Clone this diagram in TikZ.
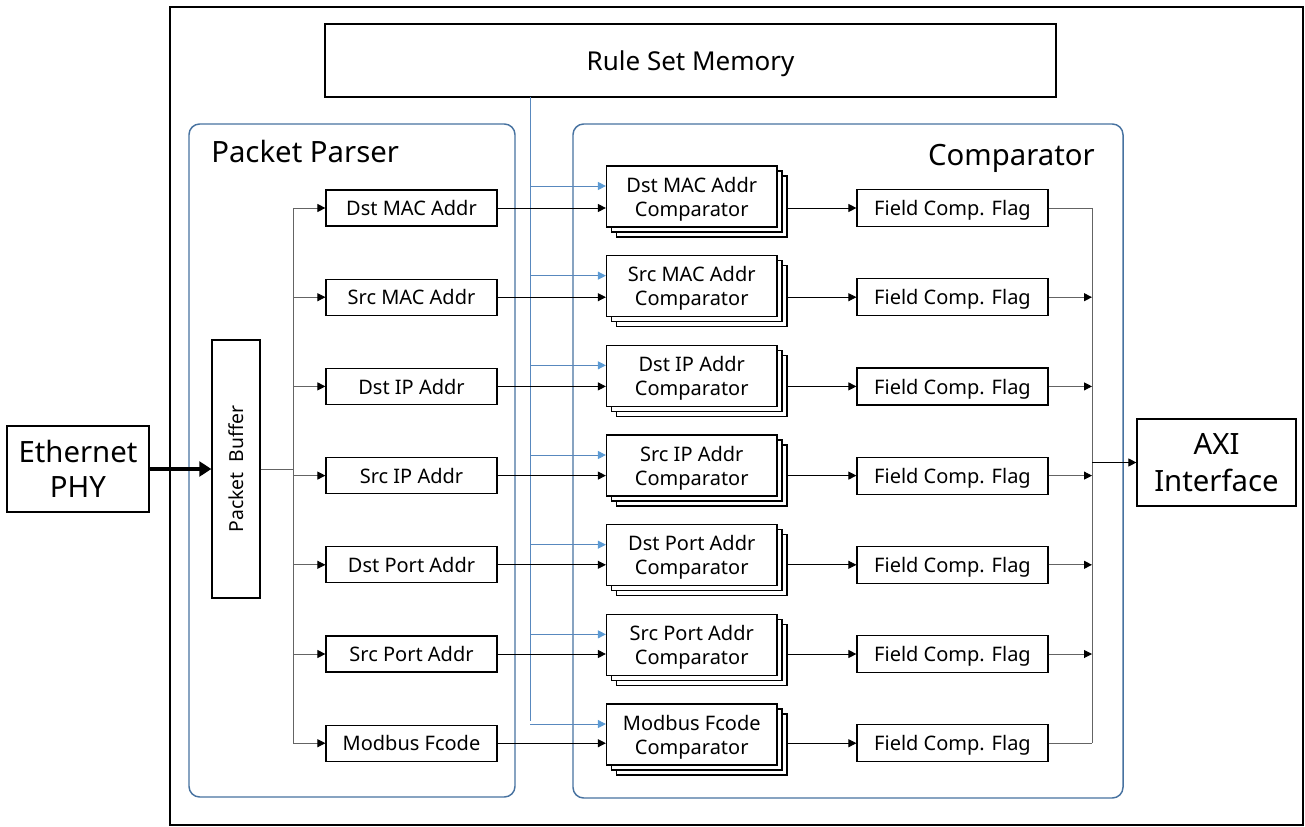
\documentclass[tikz,border=0pt]{standalone}
\usepackage{fontspec}
\setmainfont{Noto Sans}
\usetikzlibrary{arrows.meta,shadows,calc}
\definecolor{pblue}{RGB}{71,114,160}
\definecolor{rblue}{RGB}{88,136,190}
\definecolor{rtip}{RGB}{91,155,213}
\definecolor{gline}{RGB}{100,100,100}
\begin{document}
\begin{tikzpicture}[x=0.75pt,y=-0.75pt,
  box/.style={draw=black,line width=0.9pt,fill=white,inner sep=0pt,align=center,text depth=0pt},
  fld/.style={box,minimum width=128.25pt,minimum height=27pt,font=\fontsize{15}{18}\selectfont},
  cmp/.style={box,minimum width=127.9pt,minimum height=45.75pt,font=\fontsize{15}{18}\selectfont,
    general shadow={shadow xshift=7.5pt,shadow yshift=-7.5pt,draw=black,line width=0.9pt,fill=white},
    general shadow={shadow xshift=3.75pt,shadow yshift=-3.75pt,draw=black,line width=0.9pt,fill=white}},
  flag/.style={box,minimum width=143.25pt,minimum height=27.75pt,font=\fontsize{15}{18}\selectfont},
  grp/.style={draw=pblue,line width=1.1pt,rounded corners=8pt,inner sep=0pt},
  arr/.style={-{Triangle[length=6pt,width=6pt,fill=black,color=black]}},
  gl/.style={draw=gline,line width=0.7pt},
  bl/.style={draw=rblue,line width=0.7pt},
  barr/.style={-{Triangle[length=6pt,width=6pt,fill=rtip,color=rtip]}}]
\useasboundingbox (0,0) rectangle (1305,827);

% outer frame
\node[draw=black,line width=1.1pt,minimum width=849.75pt,minimum height=613.5pt,inner sep=0pt] (frame) at (736.5,416) {};

% containers
\node[grp,minimum width=244.5pt,minimum height=504.75pt] (pp) at (352,460.5) {};
\node[grp,minimum width=412.5pt,minimum height=505.5pt] (cp) at (848,461) {};
\node[anchor=base west,inner sep=0pt,font=\fontsize{22}{26}\selectfont] (ppl) at (211,163) {Packet Parser};
\node[anchor=base east,inner sep=0pt,font=\fontsize{22}{26}\selectfont] (cpl) at (1095,166) {Comparator};

% rule set memory
\node[box,minimum width=548.25pt,minimum height=54.75pt,font=\fontsize{19.5}{22}\selectfont] (rsm) at (690.5,60.5) {Rule Set Memory};

% ethernet, buffer, axi
\node[box,minimum width=106.5pt,minimum height=64.5pt,font=\fontsize{22}{26}\selectfont] (eth) at (78,469) {Ethernet\\PHY};
\node[box,rotate=90,minimum width=193.5pt,minimum height=36pt,font=\fontsize{14.5}{16}\selectfont] (pb) at (236,469) {Packet\ \ Buffer};
\node[box,minimum width=119.25pt,minimum height=65.25pt,font=\fontsize{22}{28}\selectfont] (axi) at (1216.5,462.5) {AXI\\Interface};

\draw[line width=3pt,-{Triangle[length=9pt,width=11pt]}] (eth.east) -- (pb.north);

% bus coordinates
\coordinate (lbm) at (293,469);
\coordinate (lbt) at (293,208);
\coordinate (lbb) at (293,743.2);
\coordinate (bt) at (530,97);
\coordinate (bb) at (530,720.5);
\coordinate (rbt) at (1092,208);
\coordinate (rbb) at (1092,743.2);
\coordinate (rbm) at (1092,462.5);

\draw[gl] (pb.south) -- (lbm);
\draw[gl] (lbt) -- (lbb);
\draw[bl] (bt) -- (bb);
\draw[gl] (rbt) -- (rbb);

\foreach \i/\fa/\ca in {1/Dst MAC Addr/Dst MAC Addr,2/Src MAC Addr/Src MAC Addr,3/Dst IP Addr/Dst IP Addr,4/Src IP Addr/Src IP Addr,5/Dst Port Addr/Dst Port Addr,6/Src Port Addr/Src Port Addr,7/Modbus Fcode/Modbus Fcode}{
  \pgfmathsetmacro{\yf}{208+89.2*(\i-1)}
  \pgfmathsetmacro{\yc}{196.5+89.67*(\i-1)}
  \node[fld] (f\i) at (411.5,\yf) {\fa};
  \node[cmp] (c\i) at (691.75,\yc) {\ca\\Comparator};
  \node[flag] (fl\i) at (952.5,\yf) {Field Comp. Flag};
  \coordinate (cb\i) at ($(c\i.west)+(0,-10.5)$);
  \coordinate (co\i) at ([xshift=7.5pt]c\i.east);
  \draw[gl,arr] (lbt |- f\i.west) -- (f\i.west);
  \draw[arr,line width=0.7pt] (f\i.east) -- (c\i.west |- f\i.east);
  \draw[bl,barr] (bt |- cb\i) -- (cb\i);
  \draw[arr,line width=0.7pt] (co\i |- fl\i.west) -- (fl\i.west);
}
\draw[gl] (fl1.east) -- (rbt |- fl1.east);
\draw[gl] (fl7.east) -- (rbt |- fl7.east);
\foreach \i in {2,...,6}{
  \draw[gl,arr] (fl\i.east) -- (rbt |- fl\i.east);
}
\draw[arr,line width=0.7pt] (rbm) -- (axi.west);
\end{tikzpicture}
\end{document}
